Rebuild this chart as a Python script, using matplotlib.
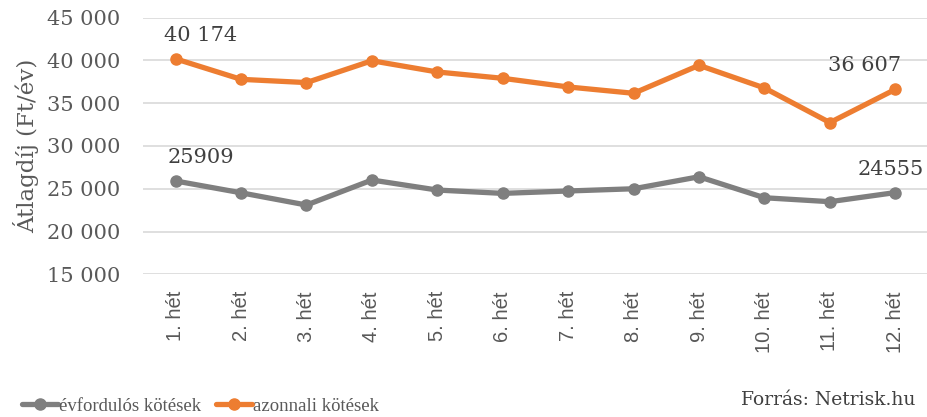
import matplotlib.pyplot as plt
from matplotlib.ticker import FuncFormatter

# === adatok ===
hetek = [f"{i}. hét" for i in range(1, 13)]
evfordulos = [25909, 24530, 23100, 26020, 24850, 24460, 24740, 25000, 26400, 23950, 23490, 24555]
azonnali = [40174, 37780, 37400, 39950, 38640, 37900, 36890, 36150, 39420, 36770, 32730, 36607]
y_ticks = [15000, 20000, 25000, 30000, 35000, 40000, 45000]

szurke = "#7F7F7F"
narancs = "#ED7D31"
szoveg = "#595959"

fig = plt.figure(figsize=(9.28, 4.17), dpi=100)
ax = fig.add_axes([0.154, 0.342, 0.846, 0.616])

x = range(len(hetek))
ax.plot(x, evfordulos, color=szurke, lw=3.8, marker="o", ms=8, label="évfordulós kötések",
        solid_capstyle="round", zorder=3)
ax.plot(x, azonnali, color=narancs, lw=3.8, marker="o", ms=8, label="azonnali kötések",
        solid_capstyle="round", zorder=3)

ax.set_xlim(-0.5, len(hetek) - 0.5)
ax.set_ylim(15000, 45000)
ax.set_yticks(y_ticks)
ax.yaxis.set_major_formatter(FuncFormatter(lambda v, p: f"{int(v):,}".replace(",", " ")))
ax.grid(axis="y", color="#D9D9D9", lw=1.2)
ax.set_axisbelow(True)
for s in ax.spines.values():
    s.set_visible(False)
ax.tick_params(length=0)
ax.tick_params(axis="y", labelsize=15, labelcolor=szoveg, pad=16)
for t in ax.get_yticklabels():
    t.set_family("DejaVu Serif")
ax.set_xticks(list(x))
ax.set_xticklabels(hetek, rotation=90, fontsize=14.5, color=szoveg, family="Liberation Sans")
ax.tick_params(axis="x", pad=12)

ax.set_ylabel("Átlagdíj (Ft/év)", fontsize=16.5, color=szoveg, family="DejaVu Serif", labelpad=6)

# adatcímkék
cimke = dict(fontsize=15, color="#404040", family="DejaVu Serif")
ax.annotate("40 174", (0, azonnali[0]), xytext=(18, 10), textcoords="offset points", ha="center", va="bottom", **cimke)
ax.annotate("25909", (0, evfordulos[0]), xytext=(18, 10), textcoords="offset points", ha="center", va="bottom", **cimke)
ax.annotate("36 607", (11, azonnali[11]), xytext=(-22, 10), textcoords="offset points", ha="center", va="bottom", **cimke)
ax.annotate("24555", (11, evfordulos[11]), xytext=(-3, 10), textcoords="offset points", ha="center", va="bottom", **cimke)

fig.legend(loc="lower left", bbox_to_anchor=(0.006, -0.035), ncol=2, frameon=False,
           prop={"family": "Liberation Serif", "size": 13.5}, handlelength=1.9,
           handletextpad=0.05, columnspacing=0.8, labelcolor=szoveg)
fig.text(0.986, 0.02, "Forrás: Netrisk.hu", ha="right", va="bottom", fontsize=13.5,
         color="#404040", family="DejaVu Serif")

fig.savefig("out.png", dpi=100)
